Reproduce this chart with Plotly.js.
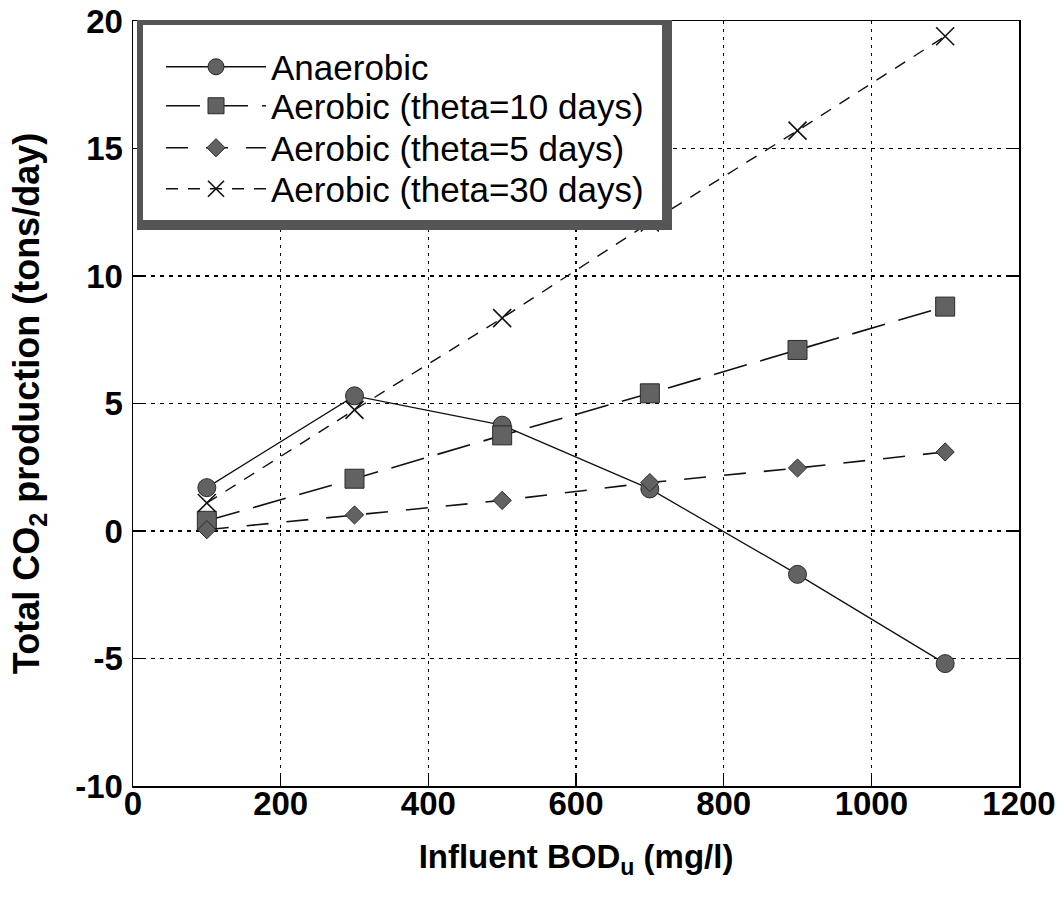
<!DOCTYPE html>
<html>
<head>
<meta charset="utf-8">
<script src="https://cdn.plot.ly/plotly-3.0.1.min.js"></script>
<style>html,body{margin:0;padding:0;background:#fff;}#chart{width:1064px;height:917px;}</style>
</head>
<body>
<div id="chart"></div>
<script>
var bod = [100, 300, 500, 700, 900, 1100];
var anaerobic = [1.7, 5.3, 4.15, 1.65, -1.7, -5.2];
var aerobic10 = [0.4, 2.05, 3.75, 5.4, 7.1, 8.8];
var aerobic5 = [0.05, 0.63, 1.2, 1.9, 2.47, 3.1];
var aerobic30 = [1.1, 4.75, 8.35, 12.1, 15.7, 19.4];
var seriesNames = ["Anaerobic", "Aerobic (theta=10 days)", "Aerobic (theta=5 days)", "Aerobic (theta=30 days)"];
var xTicks = [0, 200, 400, 600, 800, 1000, 1200];
var yTicks = [-10, -5, 0, 5, 10, 15, 20];

var FONT = "Liberation Sans, Arial, sans-serif";
var fillGray = "#626262";
var edgeGray = "#2a2a2a";

var traces = [
  {x: bod, y: anaerobic, name: seriesNames[0], mode: "lines+markers", legend: "legend",
   line: {color: "#111", width: 1.3, dash: "solid"},
   marker: {symbol: "circle", size: 18, color: fillGray, line: {color: edgeGray, width: 1}}},
  {x: bod, y: aerobic10, name: seriesNames[1], mode: "lines+markers", legend: "legend2",
   line: {color: "#111", width: 1.6, dash: "34px,14px"},
   marker: {symbol: "square", size: 19, color: fillGray, line: {color: edgeGray, width: 1}}},
  {x: bod, y: aerobic5, name: seriesNames[2], mode: "lines+markers", legend: "legend3",
   line: {color: "#111", width: 1.6, dash: "22px,18px"},
   marker: {symbol: "diamond", size: 14, color: fillGray, line: {color: edgeGray, width: 1}}},
  {x: bod, y: aerobic30, name: seriesNames[3], mode: "lines+markers", legend: "legend4",
   line: {color: "#111", width: 1.4, dash: "12px,10px"},
   marker: {symbol: "x-thin-open", size: 18, color: "#111", line: {color: "#111", width: 1.6}}}
];

var L = 133, R = 1019, T = 21, B = 786;
function px(v){ return (v - L) / (R - L); }
function py(v){ return (B - v) / (B - T); }

function legendAt(rowY) {
  return {
    x: px(161), y: py(rowY), xanchor: "left", yanchor: "middle",
    bgcolor: "rgba(0,0,0,0)", borderwidth: 0,
    font: {family: FONT, size: 35, color: "#000"},
    itemwidth: 100
  };
}

var layout = {
  width: 1064, height: 917,
  margin: {l: L, r: 1064 - R, t: T, b: 917 - B, pad: 0},
  paper_bgcolor: "#fff", plot_bgcolor: "#fff",
  font: {family: FONT, color: "#000"},
  showlegend: true,
  xaxis: {
    range: [0, 1200], tickvals: xTicks, ticktext: xTicks.map(String),
    showline: true, linecolor: "#000", linewidth: 1.5, mirror: true,
    ticks: "inside", ticklen: 11, tickcolor: "#000", tickwidth: 1.2,
    showgrid: true, gridcolor: "#000", gridwidth: 1.5, griddash: "3px,5px",
    zeroline: false,
    tickfont: {family: FONT, size: 33, weight: "bold", color: "#000"},
    ticklabelstandoff: -12,
    title: {text: "Influent BOD<sub>u</sub> (mg/l)", font: {family: FONT, size: 33, weight: "bold", color: "#000"}, standoff: 24}
  },
  yaxis: {
    range: [-10, 20], tickvals: yTicks, ticktext: yTicks.map(String),
    showline: true, linecolor: "#000", linewidth: 1.5, mirror: "ticks",
    ticks: "inside", ticklen: 10, tickcolor: "#000", tickwidth: 1.2,
    showgrid: true, gridcolor: "#000", gridwidth: 1.2, griddash: "4px,5px",
    zeroline: false,
    tickfont: {family: FONT, size: 33, weight: "bold", color: "#000"},
    ticklabelstandoff: 2,
    title: {text: "Total CO<sub>2</sub> production (tons/day)", font: {family: FONT, size: 36, weight: "bold", color: "#000"}, standoff: 24}
  },
  legend: legendAt(67),
  legend2: legendAt(106),
  legend3: legendAt(148),
  legend4: legendAt(189),
  shapes: [
    {type: "rect", xref: "paper", yref: "paper", x0: px(137), x1: px(672), y0: py(230), y1: py(20),
     fillcolor: "#555555", line: {width: 0}, layer: "above"},
    {type: "rect", xref: "paper", yref: "paper", x0: px(143), x1: px(662), y0: py(220), y1: py(25),
     fillcolor: "#ffffff", line: {width: 0}, layer: "above"}
  ]
};

Plotly.newPlot("chart", traces, layout, {displayModeBar: false, staticPlot: true});
</script>
</body>
</html>
